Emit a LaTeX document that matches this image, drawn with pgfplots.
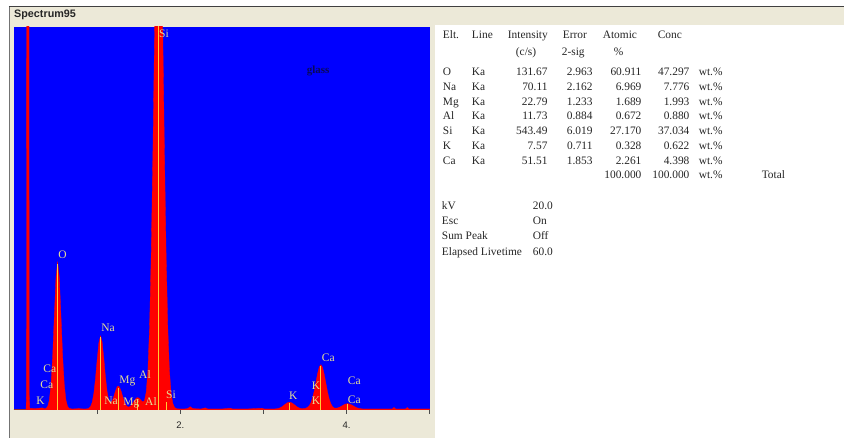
\documentclass[border=0pt]{standalone}
\usepackage{pgfplots}
\pgfplotsset{compat=1.18}
\usepackage{fontspec}
\setmainfont{Liberation Serif}
\newfontfamily\sans{Liberation Sans}
\definecolor{beige}{RGB}{236,233,216}
\definecolor{plotblue}{RGB}{0,0,255}
\definecolor{specred}{RGB}{255,0,0}
\definecolor{markyel}{RGB}{255,205,50}
\definecolor{labcol}{RGB}{228,222,150}
\definecolor{glasscol}{RGB}{10,10,90}
\newcommand{\tl}[3]{\node[tab,anchor=base west] at (#1,{438-#2}) {#3};}
\newcommand{\tr}[3]{\node[tab,anchor=base east] at (#1,{438-#2}) {#3};}
\begin{document}
\begin{tikzpicture}[x=1pt,y=1pt,
  tab/.style={inner sep=0pt,font=\fontsize{11.4}{13}\selectfont,text=black!85},
  lab/.style={inner sep=0pt,font=\fontsize{11.5}{13}\selectfont,text=labcol}]
\fill[white] (0,0) rectangle (844,438);
\fill[beige] (9,0) rectangle (435,431);
\fill[beige] (9,413) rectangle (844,431);
\draw[black!75,line width=1pt] (9,431.5) -- (844,431.5);
\draw[black!55,line width=1pt] (9.5,0) -- (9.5,431);
\node[anchor=west,inner sep=0pt,font=\sans\bfseries\fontsize{10.8}{12}\selectfont,text=black!85] at (14,423.5) {Spectrum95};
\begin{axis}[
  at={(14pt,28pt)}, anchor=south west,
  width=416pt, height=383pt, scale only axis,
  xmin=0, xmax=5, ymin=0, ymax=1000,
  axis y line=none, axis x line*=bottom,
  axis background/.style={fill=plotblue},
  xtick={1,2,3,4,5}, xticklabels={,2.,,4.,},
  tick align=outside, major tick length=4pt,
  x axis line style={black!70,line width=0.8pt},
  xtick style={black!70,line width=0.8pt},
  xticklabel style={font=\sans\fontsize{9.5}{11}\selectfont,text=black!85,yshift=-5pt},
]
\addplot[fill=specred,draw=specred,line width=0.3pt] coordinates {
(0,0) (0.145,0) (0.150,40) (0.155,2000) (0.178,2000) (0.183,40) (0.19,4) (0.25,3) (0.30,4) (0.34,5) (0.365,3)
(0.385,3.5) (0.405,8.5) (0.425,25) (0.445,65) (0.465,140) (0.485,246) (0.505,345) (0.525,386) (0.545,345) (0.565,246) (0.585,140) (0.605,65) (0.625,25) (0.645,8.5) (0.665,3.5) (0.70,2) (0.78,3) (0.84,2)
(0.86,2) (0.88,2.4) (0.90,3.7) (0.92,8) (0.94,19) (0.96,42.5) (0.98,81) (1.00,130) (1.02,174) (1.041,193) (1.06,177) (1.08,135.5) (1.10,86) (1.12,47) (1.14,24.5) (1.16,17.5) (1.18,22.3) (1.20,34.4) (1.22,48.8) (1.24,59.5) (1.254,62) (1.27,58.8) (1.29,47.3) (1.31,32.5) (1.33,19.3) (1.35,10.8) (1.37,7.1) (1.39,7.7) (1.41,11.5) (1.43,17.8) (1.45,24.8) (1.47,30.3) (1.487,32) (1.51,29.3) (1.53,24) (1.55,20.2) (1.57,24.1) (1.59,45.8) (1.61,101.4) (1.63,213) (1.65,401) (1.67,666) (1.69,975) (1.71,1258) (1.74,1452) (1.77,1258) (1.79,975) (1.81,666) (1.83,401) (1.85,213) (1.87,100) (1.89,42) (1.91,16.5) (1.93,6.6) (1.95,3.3) (1.97,2.3)
(2.05,2) (2.09,3) (2.12,8) (2.15,3) (2.25,2) (2.30,5) (2.33,2) (2.50,2) (2.60,4) (2.63,2) (2.80,2) (2.98,4) (3.01,2) (3.13,2)
(3.163,2.8) (3.193,4.4) (3.223,7.8) (3.253,12.9) (3.283,17.9) (3.313,20) (3.343,17.9) (3.373,12.9) (3.403,7.8) (3.433,4.4) (3.463,2.8) (3.49,3)
(3.511,4.2) (3.531,6.5) (3.551,10.6) (3.571,18.4) (3.591,31) (3.611,49.3) (3.631,71.8) (3.651,94.5) (3.671,111.7) (3.691,117.8) (3.711,110.4) (3.731,92.6) (3.751,69.4) (3.771,46.4) (3.791,28) (3.811,15.5) (3.831,8.2) (3.851,4.6) (3.871,4.2)
(3.892,4.8) (3.922,7.4) (3.952,11.1) (3.982,14.6) (4.012,16) (4.042,14.6) (4.072,11.1) (4.102,7.4) (4.132,4.5) (4.162,3) (4.20,2)
(4.40,2) (4.55,2) (4.57,6) (4.59,2) (4.71,2) (4.73,6) (4.75,2) (4.90,2) (5.0,2)
} \closedcycle;
\addplot[markyel,line width=1pt] coordinates {(0.525,0) (0.525,380)};
\addplot[markyel,line width=1pt] coordinates {(1.041,0) (1.041,189)};
\addplot[markyel,line width=1pt] coordinates {(1.254,0) (1.254,58)};
\addplot[markyel,line width=1pt] coordinates {(1.487,0) (1.487,29)};
\addplot[markyel,line width=1pt] coordinates {(1.740,0) (1.740,1500)};
\addplot[markyel,line width=0.8pt] coordinates {(1.836,0) (1.836,20)};
\addplot[markyel,line width=0.8pt] coordinates {(3.313,0) (3.313,18)};
\addplot[markyel,line width=1pt] coordinates {(3.691,0) (3.691,114)};
\addplot[markyel,line width=0.8pt] coordinates {(4.012,0) (4.012,14)};
\node[lab,anchor=base west] at (axis cs:1.744,973) {Si};
\node[lab,anchor=base west] at (axis cs:0.532,396) {O};
\node[lab,anchor=base west] at (axis cs:1.048,205) {Na};
\node[lab,anchor=base west] at (axis cs:1.264,69) {Mg};
\node[lab,anchor=base west] at (axis cs:1.504,82) {Al};
\node[lab,anchor=base west] at (axis cs:0.352,98) {Ca};
\node[lab,anchor=base west] at (axis cs:0.316,56) {Ca};
\node[lab,anchor=base west] at (axis cs:0.268,14) {K};
\node[lab,anchor=base west] at (axis cs:1.084,14) {Na};
\node[lab,anchor=base west] at (axis cs:1.312,12) {Mg};
\node[lab,anchor=base west] at (axis cs:1.576,12) {Al};
\node[lab,anchor=base west] at (axis cs:1.828,30) {Si};
\node[lab,anchor=base west] at (axis cs:3.305,27) {K};
\node[lab,anchor=base west] at (axis cs:3.581,54) {K};
\node[lab,anchor=base west] at (axis cs:3.581,14) {K};
\node[lab,anchor=base west] at (axis cs:3.701,127) {Ca};
\node[lab,anchor=base west] at (axis cs:4.013,67) {Ca};
\node[lab,anchor=base west] at (axis cs:4.013,17) {Ca};
\node[inner sep=0pt,anchor=base west,font=\bfseries\fontsize{11}{12}\selectfont,text=glasscol] at (axis cs:3.52,879) {glass};
\end{axis}
% table
\tl{443}{38.5}{Elt.}
\tl{472}{38.5}{Line}
\tl{508}{38.5}{Intensity}
\tl{563}{38.5}{Error}
\tl{603}{38.5}{Atomic}
\tl{658}{38.5}{Conc}
\tl{516}{55.5}{(c/s)}
\tl{562}{55.5}{2-sig}
\tl{614}{55.5}{\%}
\tl{443}{75.5}{O}   \tl{472}{75.5}{Ka}  \tr{548}{75.5}{131.67} \tr{593}{75.5}{2.963} \tr{642}{75.5}{60.911} \tr{690}{75.5}{47.297} \tl{699}{75.5}{wt.\%}
\tl{443}{90.3}{Na}  \tl{472}{90.3}{Ka}  \tr{548}{90.3}{70.11}  \tr{593}{90.3}{2.162} \tr{642}{90.3}{6.969}  \tr{690}{90.3}{7.776}  \tl{699}{90.3}{wt.\%}
\tl{443}{105.1}{Mg} \tl{472}{105.1}{Ka} \tr{548}{105.1}{22.79} \tr{593}{105.1}{1.233} \tr{642}{105.1}{1.689} \tr{690}{105.1}{1.993} \tl{699}{105.1}{wt.\%}
\tl{443}{119.9}{Al} \tl{472}{119.9}{Ka} \tr{548}{119.9}{11.73} \tr{593}{119.9}{0.884} \tr{642}{119.9}{0.672} \tr{690}{119.9}{0.880} \tl{699}{119.9}{wt.\%}
\tl{443}{134.7}{Si} \tl{472}{134.7}{Ka} \tr{548}{134.7}{543.49} \tr{593}{134.7}{6.019} \tr{642}{134.7}{27.170} \tr{690}{134.7}{37.034} \tl{699}{134.7}{wt.\%}
\tl{443}{149.5}{K}  \tl{472}{149.5}{Ka} \tr{548}{149.5}{7.57} \tr{593}{149.5}{0.711} \tr{642}{149.5}{0.328} \tr{690}{149.5}{0.622} \tl{699}{149.5}{wt.\%}
\tl{443}{164.3}{Ca} \tl{472}{164.3}{Ka} \tr{548}{164.3}{51.51} \tr{593}{164.3}{1.853} \tr{642}{164.3}{2.261} \tr{690}{164.3}{4.398} \tl{699}{164.3}{wt.\%}
\tr{642}{179.1}{100.000} \tr{690}{179.1}{100.000} \tl{699}{179.1}{wt.\%} \tl{762}{179.1}{Total}
\tl{442}{209.5}{kV}  \tl{533}{209.5}{20.0}
\tl{442}{224.8}{Esc} \tl{533}{224.8}{On}
\tl{442}{240.1}{Sum Peak} \tl{533}{240.1}{Off}
\tl{442}{255.4}{Elapsed Livetime} \tl{533}{255.4}{60.0}
\end{tikzpicture}
\end{document}
